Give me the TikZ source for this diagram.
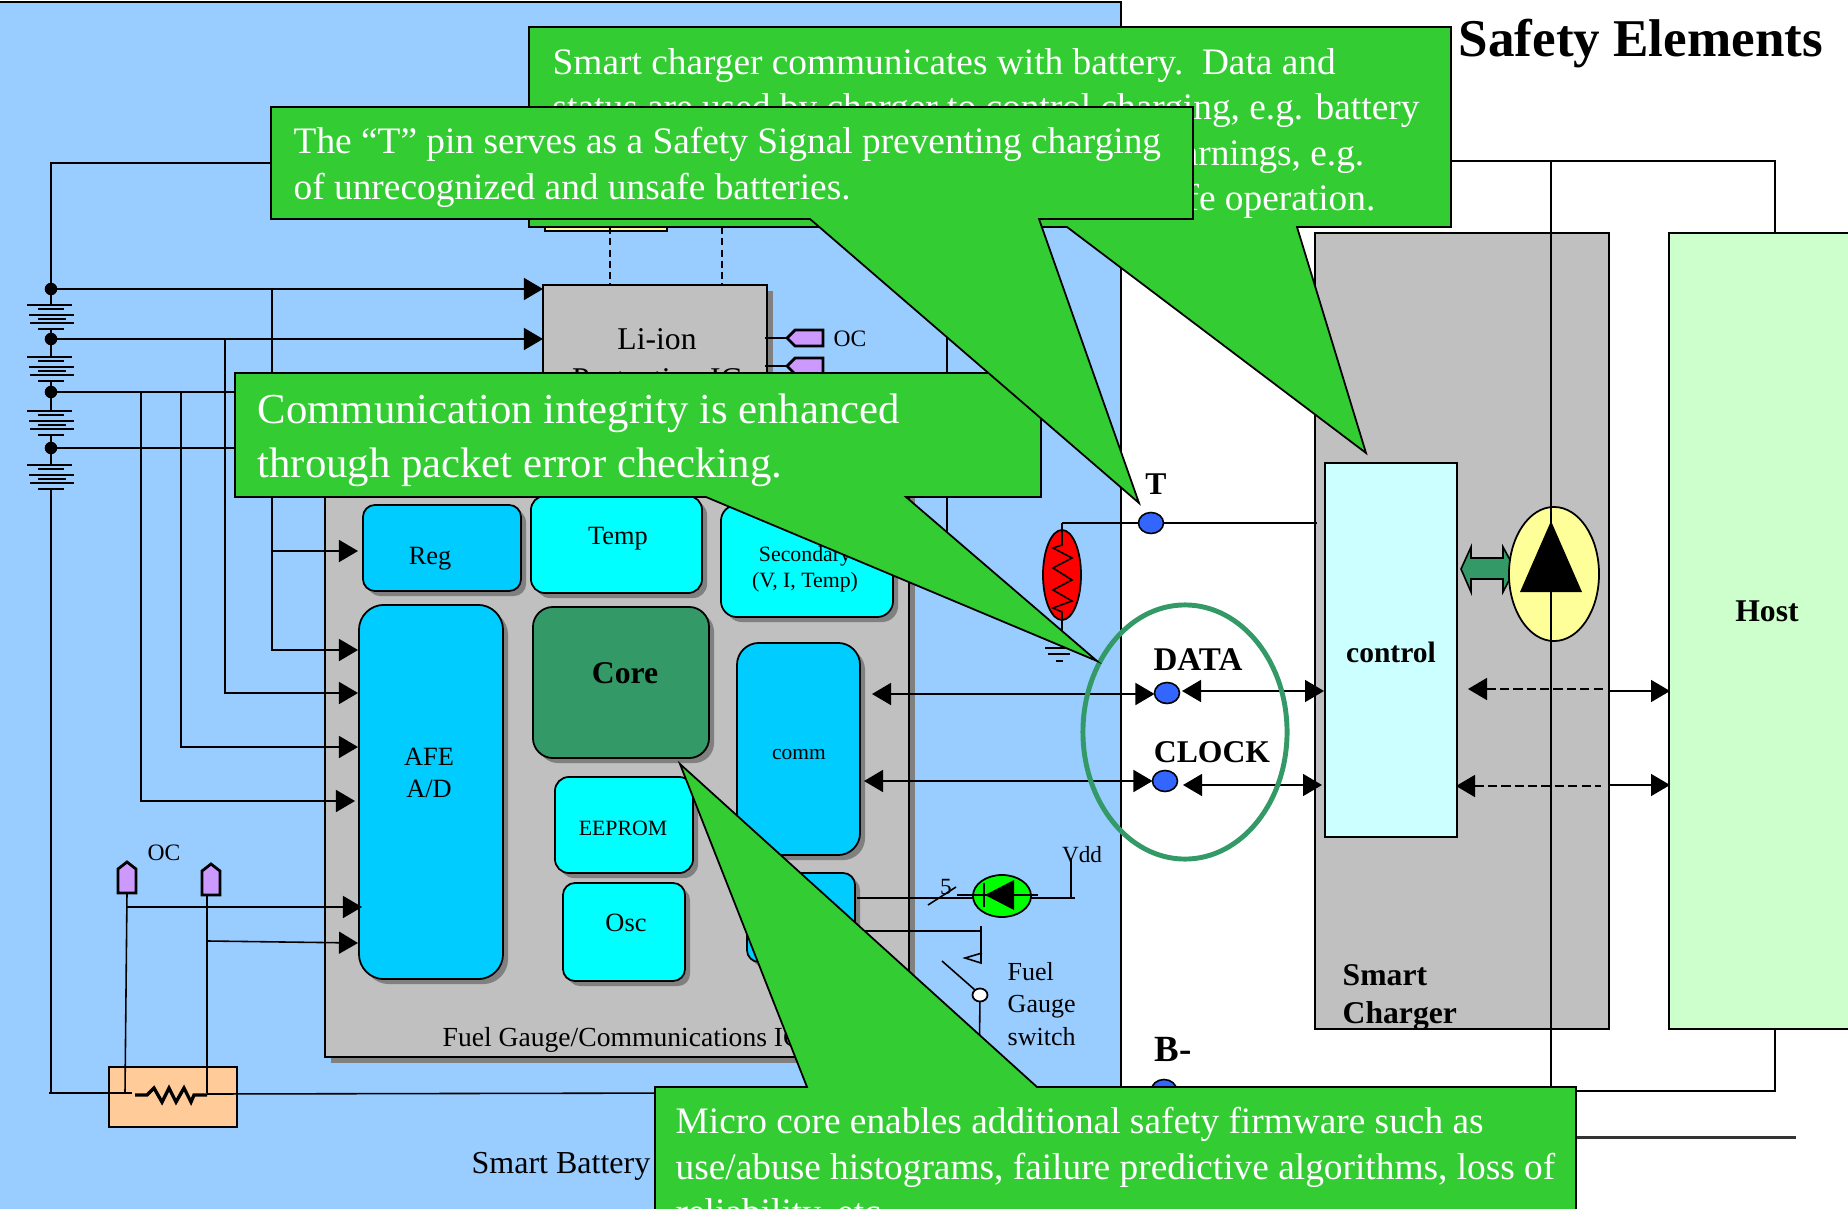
\documentclass[tikz,border=0pt]{standalone}
\usepackage{fontspec}
\setmainfont{Liberation Serif}
\usetikzlibrary{arrows.meta, shapes.geometric, shadows}
\definecolor{batteryblue}{RGB}{153, 204, 255}
\definecolor{calloutgreen}{RGB}{51, 204, 51}
\definecolor{icgray}{RGB}{192, 192, 192}
\definecolor{shadowgray}{RGB}{128, 128, 128}
\definecolor{hostgreen}{RGB}{204, 255, 204}
\definecolor{controlcyan}{RGB}{204, 255, 255}
\definecolor{blockcyan}{RGB}{0, 255, 255}
\definecolor{blockblue}{RGB}{0, 204, 255}
\definecolor{coregreen}{RGB}{51, 153, 102}
\definecolor{pinblue}{RGB}{51, 102, 255}
\definecolor{shuntorange}{RGB}{255, 204, 153}
\definecolor{fetyellow}{RGB}{255, 255, 153}
\definecolor{ocpurple}{RGB}{204, 153, 255}
\tikzset{
    pintip/.tip={Triangle[length=0.19cm, width=0.22cm]},
    wire/.style={line width=0.45pt},
    dashwire/.style={line width=0.45pt, dash pattern=on 2.6pt off 1.2pt},
    callout/.style={draw, line width=0.5pt, fill=calloutgreen},
    callouttext/.style={text=white, inner sep=0pt, align=left, anchor=base west, font=\fontsize{10.62}{12.8}\selectfont},
    icbox/.style={draw, line width=0.5pt, fill=icgray, inner sep=0pt, outer sep=0pt, copy shadow={draw=none, fill=shadowgray, shadow xshift=0.06cm, shadow yshift=-0.06cm}},
    chipbox/.style={draw, line width=0.5pt, inner sep=0pt, outer sep=0pt, copy shadow={draw=none, fill=shadowgray, shadow xshift=0.05cm, shadow yshift=-0.05cm}},
    plainbox/.style={draw, line width=0.5pt, inner sep=0pt, outer sep=0pt},
    pinnode/.style={draw, ellipse, line width=0.45pt, fill=pinblue, minimum width=0.25cm, minimum height=0.21cm, inner sep=0pt, outer sep=0pt},
    battdot/.style={circle, fill=black, minimum size=0.125cm, inner sep=0pt, outer sep=0pt},
    ocpin/.style={draw, line width=0.8pt, fill=ocpurple},
    lbl/.style={inner sep=0pt, font=\fontsize{7.5}{9}\selectfont},
    smalllbl/.style={inner sep=0pt, font=\fontsize{6.1}{7.5}\selectfont},
    noteslbl/.style={inner sep=0pt, align=left, font=\fontsize{7.4}{9.2}\selectfont},
    bigslbl/.style={inner sep=0pt, font=\fontsize{9}{11.1}\selectfont},
    boldlbl/.style={inner sep=0pt, align=left, font=\bfseries\fontsize{9}{10.8}\selectfont}
}
\begin{document}
\begin{tikzpicture}[x=0.01cm, y=-0.01cm]
        \path[use as bounding box, clip] (0,0) rectangle (1848,1209);
        \fill[white] (0,0) rectangle (1848,1209);
        \draw[line width=0.5pt, fill=batteryblue] (-10,2) rectangle (1121,1300);

        \node[plainbox, fill=fetyellow, minimum width=1.22cm, minimum height=0.3cm] (fuse) at (606,216) {};
        \node[icbox, minimum width=2.24cm, minimum height=1.85cm] (liion) at (655,377.5) {};
        \node[bigslbl, align=center, anchor=base] at (657,389) {Li-ion\\Protection IC};
        \node[icbox, minimum width=5.84cm, minimum height=5.77cm] (fgic) at (617,768.5) {};
        \node[lbl, anchor=west, font=\fontsize{7.85}{9}\selectfont] at (442,1040) {Fuel Gauge/Communications IC};

        \node[chipbox, fill=blockblue, rounded corners=0.12cm, minimum width=1.58cm, minimum height=0.86cm] (reg) at (442,548) {};
        \node[lbl] at (430,558.5) {Reg};
        \node[chipbox, fill=blockcyan, rounded corners=0.14cm, minimum width=1.71cm, minimum height=0.97cm] (temp) at (616.5,544.5) {};
        \node[lbl] at (618,539) {Temp};
        \node[chipbox, fill=blockcyan, rounded corners=0.16cm, minimum width=1.72cm, minimum height=1.12cm] (secondary) at (807,561) {};
        \node[smalllbl, align=center, font=\fontsize{6.2}{7.5}\selectfont] at (805,569.5) {Secondary\\(V, I, Temp)};
        \node[chipbox, fill=blockblue, rounded corners=0.25cm, minimum width=1.44cm, minimum height=3.74cm] (afe) at (431,792) {};
        \node[lbl, align=center] at (429,773) {AFE\\A/D};
        \node[chipbox, fill=coregreen, rounded corners=0.2cm, minimum width=1.76cm, minimum height=1.51cm] (core) at (621,682.5) {};
        \node[boldlbl] at (625,673) {Core};
        \node[chipbox, fill=blockblue, rounded corners=0.22cm, minimum width=1.23cm, minimum height=2.12cm] (comm) at (798.5,749) {};
        \node[smalllbl] at (799,755) {comm};
        \node[chipbox, fill=blockcyan, rounded corners=0.14cm, minimum width=1.38cm, minimum height=0.96cm] (eeprom) at (624,825) {};
        \node[smalllbl, font=\fontsize{6.2}{7.5}\selectfont] at (623,828) {EEPROM};
        \node[chipbox, fill=blockcyan, rounded corners=0.12cm, minimum width=1.22cm, minimum height=0.98cm] (osc) at (624,932) {};
        \node[lbl] at (626,923) {Osc};
        \node[chipbox, fill=blockblue, rounded corners=0.12cm, minimum width=1.08cm, minimum height=0.89cm] (gpio) at (801,917.5) {};

        \node[plainbox, fill=shuntorange, minimum width=1.28cm, minimum height=0.6cm] (shunt) at (173,1097) {};
        \draw[line width=0.95pt] (135,1095) -- (147,1095) -- (154,1088) -- (162,1102) -- (169,1088) -- (176,1102) -- (184,1088) -- (191,1102) -- (194,1095) -- (207,1095);

        \node[battdot] (bat1) at (51,289) {};
        \node[battdot] (bat2) at (51,339) {};
        \node[battdot] (bat3) at (51,392) {};
        \node[battdot] (bat4) at (51,448) {};
        \foreach \y in {305, 357, 411, 465} {
            \foreach \d/\a/\b in {0/27/72, 4/38/64, 10/29/74, 14/38/66, 18/30/74, 24/38/64} {
                \draw[wire] (\a, \y+\d) -- (\b, \y+\d);
            }
        }
        \foreach \ya/\yb in {289/305, 329/339, 339/357, 381/392, 392/411, 435/448, 448/465, 489/1093} {
            \draw[wire] (51, \ya) -- (51, \yb);
        }

        \coordinate (tapA) at (272,289);
        \coordinate (tapB) at (225,339);
        \coordinate (tapC) at (181,392);
        \coordinate (tapD) at (141,392);
        \coordinate (afeinA) at (358,650);
        \coordinate (afeinB) at (358,693);
        \coordinate (afeinC) at (358,747);
        \coordinate (afeinD) at (355,801);
        \coordinate (afeinE) at (362,907);
        \coordinate (afeinF) at (358,943);
        \coordinate (regin) at (358,551);
        \coordinate (topleft) at (300,163);
        \coordinate (topright) at (1300,161);
        \coordinate (hosttop) at (1775,233);
        \coordinate (hostbot) at (1775,1029);

        \draw[wire] (bat1) |- (topleft);
        \draw[wire, -pintip] (bat1) -- (bat1 -| liion.west);
        \draw[wire, -pintip] (bat2) -- (bat2 -| liion.west);
        \draw[wire] (bat3) -- (260,392);
        \draw[wire] (bat4) -- (260,448);
        \foreach \t/\d in {tapA/afeinA, tapB/afeinB, tapC/afeinC, tapD/afeinD} {
            \draw[wire, -pintip] (\t) |- (\d);
        }
        \draw[wire, -pintip] (tapA |- regin) -- (regin);

        \foreach \x/\y in {127/893, 211/895} {
            \draw[ocpin, shift={(\x,\y)}] (-9,0) -- (-9,-24) -- (0,-31) -- (9,-24) -- (9,0) -- cycle;
        }
        \node[lbl, font=\fontsize{6.7}{8}\selectfont] at (164,853) {OC};
        \draw[wire] (127,893) -- (125,1093);
        \draw[wire] (207,895) -- (207,1093);
        \draw[wire, -pintip] (127,907) -- (afeinE);
        \draw[wire, -pintip] (208,941) -- (afeinF);
        \draw[wire] (49,1093) -- (132,1093);
        \draw[wire] (207,1094) -- (700,1093);

        \foreach \y in {338, 366} {
            \draw[ocpin, shift={(787,\y)}] (0,0) -- (8,-8) -- (36,-8) -- (36,8) -- (8,8) -- cycle;
            \draw[wire] (765,\y) -- (787,\y);
        }
        \node[lbl, font=\fontsize{6.7}{8}\selectfont] at (850,339) {OC};
        \draw[wire, dash pattern=on 2pt off 1.2pt] (610,227) -- (610,285);
        \draw[wire, dash pattern=on 2pt off 1.2pt] (722,227) -- (722,285);
        \draw[wire] (947,330) -- (947,550);

        \node[plainbox, ellipse, fill=red, minimum width=0.38cm, minimum height=0.9cm] (therm) at (1062,575) {};
        \draw[wire] (1062,523) -- (1062,545) -- (1053,548) -- (1072,558) -- (1053,568) -- (1072,580) -- (1053,590) -- (1072,601) -- (1053,608) -- (1062,612) -- (1062,648);
        \draw[wire] (1045,648) -- (1073,648);
        \draw[wire] (1048,654) -- (1070,654);
        \draw[wire] (1056,661) -- (1063,661);

        \node[plainbox, fill=icgray, minimum width=2.94cm, minimum height=7.96cm] (charger) at (1462,631) {};
        \node[plainbox, fill=hostgreen, minimum width=2.31cm, minimum height=7.96cm] (host) at (1784.5,631) {};
        \node[plainbox, fill=controlcyan, minimum width=1.32cm, minimum height=3.74cm] (control) at (1391,650) {};
        \node[boldlbl, font=\bfseries\fontsize{8.4}{10}\selectfont] at (1391,652) {control};
        \node[boldlbl] at (1767,611) {Host};
        \node[boldlbl, anchor=base west] at (1342,1023) {Smart\\Charger};

        \draw[wire] (topright) -| (hosttop);
        \draw[wire] (hostbot) |- (1500,1091);

        \node[pinnode] (pinT) at (1151,523) {};
        \node[pinnode] (pinD) at (1167,693) {};
        \node[pinnode] (pinC) at (1165,781) {};
        \node[pinnode] (pinB) at (1164,1090) {};
        \node[boldlbl] at (1156,484) {T};
        \node[boldlbl, font=\bfseries\fontsize{9.4}{10.8}\selectfont] at (1198,660) {DATA};
        \node[boldlbl] at (1212,752) {CLOCK};
        \node[boldlbl, font=\bfseries\fontsize{10.5}{12}\selectfont] at (1173,1049) {B-};
        \draw[wire] (1062,523) -- (pinT) -- (1317,523);
        \coordinate (commD) at (872,694);
        \coordinate (commC) at (864,781);
        \coordinate (pinDout) at (1182,691);
        \coordinate (pinCout) at (1183,785);
        \coordinate (ctrlD) at (1324,691);
        \coordinate (ctrlC) at (1322,785);
        \draw[wire, pintip-pintip] (commD) -- (commD -| pinD.west);
        \draw[wire, pintip-pintip] (commC) -- (commC -| pinC.west);
        \draw[wire, pintip-pintip] (pinDout) -- (ctrlD);
        \draw[wire, pintip-pintip] (pinCout) -- (ctrlC);

        \draw[line width=0.45pt, fill=coregreen] (1461,569) -- (1471,547) -- (1471,558) -- (1503,558) -- (1503,547) -- (1515,569) -- (1503,592) -- (1503,579) -- (1471,579) -- (1471,592) -- cycle;
        \node[plainbox, ellipse, fill=fetyellow, minimum width=0.9cm, minimum height=1.34cm] (fet) at (1554,574) {};
        \draw[wire] (1551,161) -- (1551,1090);
        \fill (1551,521) -- (1582,592) -- (1520,592) -- cycle;

        \coordinate (dashD) at (1468,689);
        \coordinate (dashC) at (1456,786);
        \draw[dashwire, pintip-] (dashD) -- (dashD -| 1603,0);
        \draw[dashwire, pintip-] (dashC) -- (dashC -| 1601,0);
        \draw[wire, -pintip] (1610,691) -- (1670,691);
        \draw[wire, -pintip] (1610,785) -- (1670,785);

        \draw[wire] (857,898) -- (1075,898);
        \draw[wire] (1071,858) -- (1071,898);
        \draw[wire] (928,905) -- (956,887);
        \node[lbl, font=\fontsize{6.6}{8}\selectfont] at (946,887) {5};
        \node[lbl, font=\fontsize{6.6}{8}\selectfont] at (1082,855) {Vdd};
        \node[plainbox, ellipse, fill=green, minimum width=0.58cm, minimum height=0.42cm] (led) at (1002,896) {};
        \draw[wire] (957,895) -- (1038,895);
        \fill (985,895) -- (1014,880) -- (1014,910) -- cycle;
        \draw[wire] (984,883) -- (984,907);

        \draw[wire] (860,931) -- (981,931);
        \draw[wire] (981,926) -- (981,963) -- (965,958) -- (982,953);
        \draw[wire] (942,961) -- (975,990);
        \node[plainbox, ellipse, fill=white, minimum width=0.15cm, minimum height=0.13cm] (swpivot) at (980,995) {};
        \draw[wire] (swpivot) -- (979,1087);
        \node[noteslbl, anchor=base west] at (1007,1045) {Fuel\\Gauge\\switch};

        \node[plainbox, draw=coregreen, line width=1.4pt, ellipse, minimum width=2.04cm, minimum height=2.54cm] (busring) at (1185,732) {};

        \node[inner sep=0pt, anchor=base west, font=\bfseries\fontsize{15.1}{18}\selectfont] at (1458,57) {Safety Elements};
        \node[inner sep=0pt, font=\fontsize{9.1}{11}\selectfont] at (561,1166.5) {Smart Battery};
        \draw[line width=0.85pt, black!80] (1500,1137) -- (1796,1137);

        \draw[callout] (529,27) -- (1451,27) -- (1451,227) -- (1297,227) -- (1366,453) -- (1067,227) -- (529,227) -- cycle;
        \node[callouttext] (chargernote) at (552,120) {Smart charger communicates with battery.\ \ Data and\\status are used by charger to control charging, e.g. battery};
        \node[callouttext, anchor=base east] at (1365,165) {warnings, e.g.};
        \node[callouttext, anchor=base east] at (1376,210) {safe operation.};

        \draw[callout] (235,373) -- (1041,373) -- (1041,497) -- (906,497) -- (1097,661) -- (706,497) -- (235,497) -- cycle;
        \node[callouttext, font=\fontsize{12.15}{15.1}\selectfont] (commnote) at (257,477) {Communication integrity is enhanced\\through packet error checking.};

        \draw[callout] (271,107) -- (1193,107) -- (1193,219) -- (1039,219) -- (1139,503) -- (810,219) -- (271,219) -- cycle;
        \node[callouttext] (tnote) at (293,199) {The “T” pin serves as a Safety Signal preventing charging\\of unrecognized and unsafe batteries.};

        \draw[callout] (655,1300) -- (655,1087) -- (807,1087) -- (680,764) -- (1037,1087) -- (1576,1087) -- (1576,1300);
        \node[callouttext] (micronote) at (675,1224) {Micro core enables additional safety firmware such as\\use/abuse histograms, failure predictive algorithms, loss of\\reliability, etc.};
    \end{tikzpicture}
\end{document}
